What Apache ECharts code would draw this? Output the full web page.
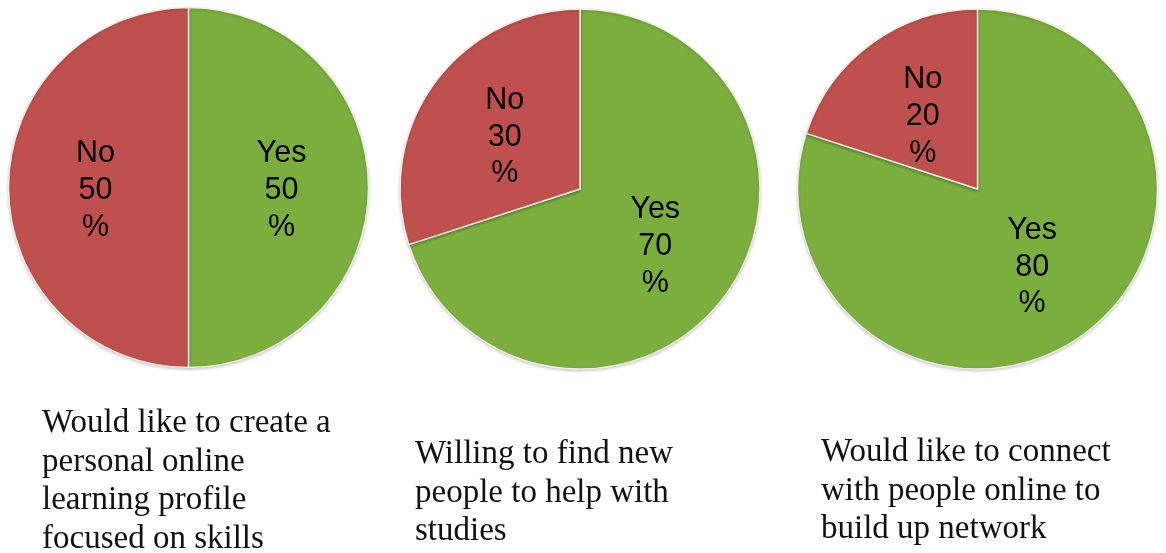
<!DOCTYPE html>
<html>
<head>
<meta charset="utf-8">
<script src="https://cdn.jsdelivr.net/npm/echarts@6/dist/echarts.min.js"></script>
<style>
  html, body { margin: 0; padding: 0; background: #ffffff; }
  #chart { width: 1166px; height: 553px; }
</style>
</head>
<body>
<div id="chart"></div>
<script>
// Survey answers, one pie per question
const answerNames = ['Yes', 'No'];
const surveyProfile = [50, 50];
const surveyStudyHelp = [70, 30];
const surveyNetwork = [80, 20];
const captions = [
  'Would like to create a\npersonal online\nlearning profile\nfocused on skills',
  'Willing to find new\npeople to help with\nstudies',
  'Would like to connect\nwith people online to\nbuild up network'
];

const sliceColors = { Yes: '#7aae3d', No: '#c0504e' };

const pieSets = [surveyProfile, surveyStudyHelp, surveyNetwork];
const pieCenters = [[188.5, 187.5], [580, 189], [977.5, 189]];
const captionPos = [[42, 404], [415, 435], [821, 433]];

const chart = echarts.init(document.getElementById('chart'), null, { renderer: 'canvas' });

chart.setOption({
  backgroundColor: '#ffffff',
  animation: false,
  title: captions.map((text, i) => ({
    text: text,
    left: captionPos[i][0],
    top: captionPos[i][1],
    padding: 0,
    textStyle: {
      fontFamily: '"Liberation Serif", "DejaVu Serif", serif',
      fontSize: 33,
      fontWeight: 'normal',
      lineHeight: 38.7,
      color: '#111111'
    }
  })),
  series: pieSets.map((values, i) => ({
    type: 'pie',
    center: pieCenters[i],
    radius: 180,
    startAngle: 90,
    clockwise: true,
    avoidLabelOverlap: false,
    silent: true,
    data: answerNames.map((name, k) => ({
      name: name,
      value: values[k],
      itemStyle: { color: sliceColors[name] }
    })),
    itemStyle: {
      borderColor: '#f2efe6',
      borderWidth: 1.5,
      shadowBlur: 3,
      shadowOffsetY: 1.5,
      shadowColor: 'rgba(0,0,0,0.18)'
    },
    label: {
      show: true,
      position: 'inside',
      formatter: '{b}\n{c}\n%',
      fontFamily: '"Liberation Sans", Arial, sans-serif',
      fontSize: 30.5,
      lineHeight: 36.7,
      offset: [0, 3],
      color: '#000000',
      align: 'center'
    },
    labelLine: { show: false },
    emphasis: { disabled: true }
  }))
});
</script>
</body>
</html>
